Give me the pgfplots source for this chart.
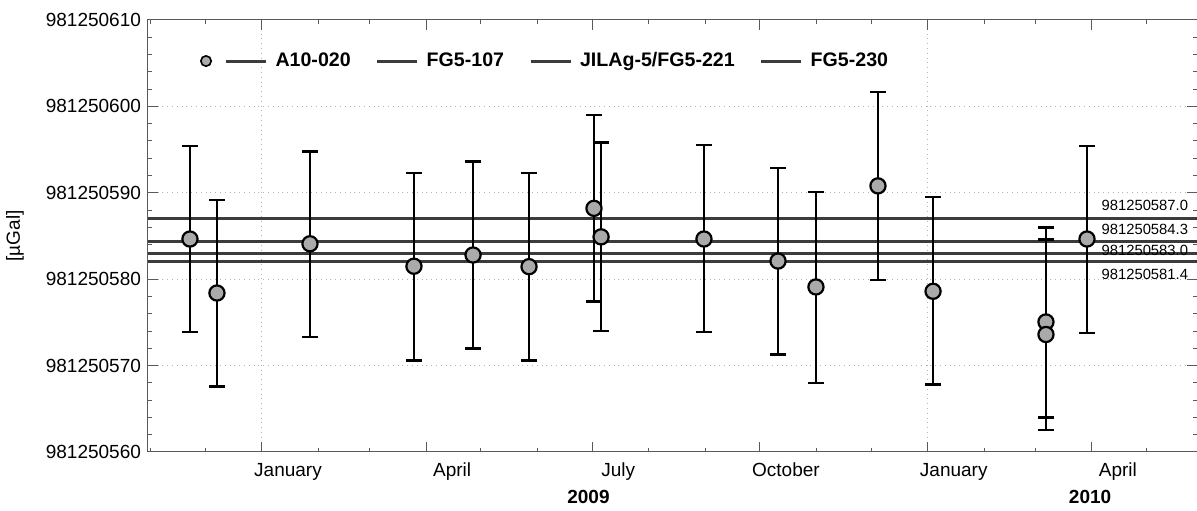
\documentclass[border=0pt]{standalone}
\usepackage{fontspec}
\setmainfont{Liberation Sans}
\usepackage{pgfplots}
\usepackage{pgfplotstable}
\pgfplotsset{compat=1.18}

% x: days since 1 January 2009; y: gravity minus 981250000 uGal
\pgfplotstableread{
x y ep em
-39.5 584.65 10.75 10.75
-24.7 578.40 10.80 10.80
26.3 584.10 10.70 10.80
83.3 581.50 10.80 10.90
115.7 582.80 10.80 10.80
146.4 581.45 10.85 10.85
182.0 588.20 10.80 10.80
185.9 584.90 10.90 10.90
242.3 584.65 10.85 10.75
282.9 582.10 10.80 10.80
303.7 579.10 11.00 11.10
337.7 590.80 10.90 10.90
367.9 578.60 10.90 10.80
429.8 575.05 10.95 11.05
429.8 573.60 11.00 11.05
452.3 584.65 10.80 10.85
}\gravdata

\definecolor{refline}{RGB}{60,60,60}
\definecolor{ptfill}{RGB}{170,170,170}

\begin{document}
\begin{tikzpicture}
\begin{axis}[
  name=ax,
  scale only axis,
  width=524.5pt, height=216pt,
  xmin=-62.5, xmax=512.6,
  ymin=560, ymax=610,
  clip=false,
  axis line style={gray!70!black, line width=0.5pt},
  tick style={gray!70!black, line width=0.5pt},
  tick align=inside,
  major tick length=5pt,
  minor tick length=2pt,
  xtick={0,90,181,273,365,455},
  xticklabels={January,April,July,October,January,April},
  minor xtick={-61,-31,31,59,120,151,212,243,304,334,396,424,485},
  xticklabel style={xshift=13pt, yshift=-2pt, font=\fontsize{9.5pt}{11pt}\selectfont},
  ytick={560,570,580,590,600,610},
  yticklabels={981250560,981250570,981250580,981250590,981250600,981250610},
  minor y tick num=4,
  yticklabel style={font=\fontsize{9.5pt}{11pt}\selectfont},
  ymajorgrids,
  major grid style={gray!60, dotted, line width=0.5pt},
  extra x ticks={0,365},
  extra x tick labels={},
  extra x tick style={grid=major, major tick length=5pt},
  ylabel={[µGal]},
  ylabel style={at={(axis description cs:-0.1268,0.5)}, anchor=center, font=\fontsize{9.5pt}{11pt}\selectfont},
  legend columns=4,
  legend style={draw=none, fill=none, inner sep=0pt, outer sep=0pt,
    at={(axis description cs:0.0496,0.905)}, anchor=west,
    font=\bfseries\fontsize{9.8pt}{11pt}\selectfont,
    /tikz/every even column/.append style={column sep=10.5pt}},
  legend cell align=left,
]
% reference levels
\addplot[refline, line width=1.5pt,
  legend image code/.code={
    \draw[black, line width=0.8pt, fill=ptfill] (2.5pt,0pt) circle (2.6pt);
    \draw[refline, line width=1.5pt] (12.5pt,0pt) -- (32.5pt,0pt);
    \path (34.5pt,0pt);
  }] coordinates {(-62.5,587.0) (512.6,587.0)};
\addlegendentry{A10-020}
\addplot[refline, line width=1.5pt,
  legend image code/.code={\draw[refline, line width=1.5pt] (0pt,0pt) -- (20pt,0pt); \path (22pt,0pt);}]
  coordinates {(-62.5,584.4) (512.6,584.4)};
\addlegendentry{FG5-107}
\addplot[refline, line width=1.5pt,
  legend image code/.code={\draw[refline, line width=1.5pt] (0pt,0pt) -- (20pt,0pt); \path (22pt,0pt);}]
  coordinates {(-62.5,583.0) (512.6,583.0)};
\addlegendentry{JILAg-5/FG5-221}
\addplot[refline, line width=1.5pt,
  legend image code/.code={\draw[refline, line width=1.5pt] (0pt,0pt) -- (20pt,0pt); \path (22pt,0pt);}]
  coordinates {(-62.5,582.0) (512.6,582.0)};
\addlegendentry{FG5-230}

% measurements
\addplot[forget plot, only marks, mark=*, mark size=3.8pt,
  mark options={fill=ptfill, draw=black, line width=1.1pt},
  error bars/.cd, y dir=both, y explicit,
  error bar style={black, line width=1.2pt},
  error mark options={black, rotate=90, mark size=4pt, line width=1.2pt}]
  table[x=x, y=y, y error plus=ep, y error minus=em]{\gravdata};

% level labels
\node[anchor=south east, inner sep=1pt, font=\fontsize{7.4pt}{8pt}\selectfont] at (axis cs:509,587.6) {981250587.0};
\node[anchor=south east, inner sep=1pt, font=\fontsize{7.4pt}{8pt}\selectfont] at (axis cs:509,584.9) {981250584.3};
\node[anchor=east, inner sep=1pt, font=\fontsize{7.4pt}{8pt}\selectfont] at (axis cs:509,583.3) {981250583.0};
\node[anchor=north east, inner sep=1pt, font=\fontsize{7.4pt}{8pt}\selectfont] at (axis cs:509,581.4) {981250581.4};

% year labels
\node[font=\bfseries\fontsize{9.5pt}{11pt}\selectfont] at (axis cs:179,560) [yshift=-22.5pt] {2009};
\node[font=\bfseries\fontsize{9.5pt}{11pt}\selectfont] at (axis cs:454,560) [yshift=-22.5pt] {2010};
\end{axis}
\pgfresetboundingbox
\path[use as bounding box] ([shift={(-74pt,-29.5pt)}]ax.south west) rectangle ([shift={(0pt,10pt)}]ax.north east);
\end{tikzpicture}
\end{document}
